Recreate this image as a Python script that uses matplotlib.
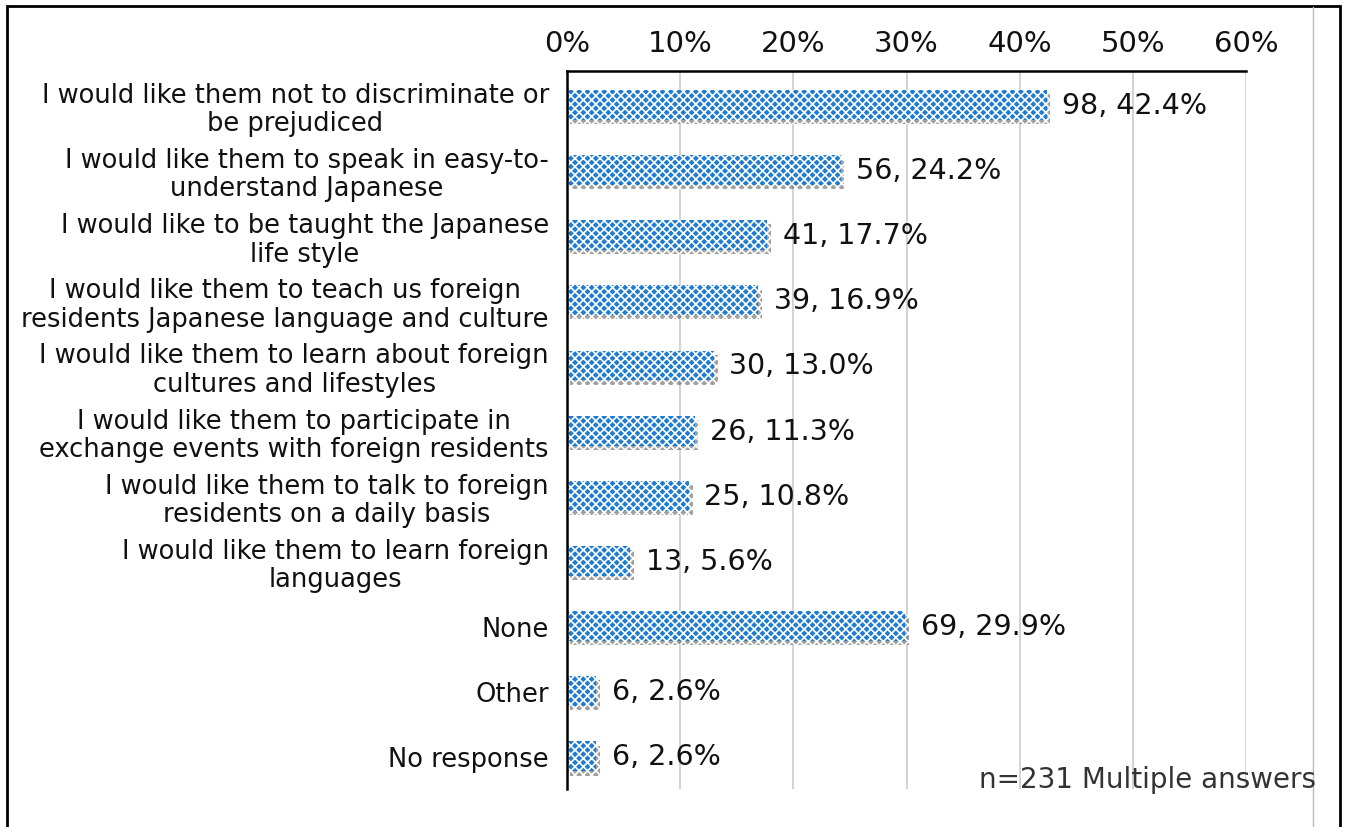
import matplotlib
matplotlib.use("Agg")
import matplotlib.pyplot as plt
import matplotlib.patheffects as pe
from matplotlib.patches import Rectangle
from matplotlib.lines import Line2D

plt.rcParams['font.family'] = ['DejaVu Sans']
plt.rcParams['hatch.linewidth'] = 1.2

categories = [
    "I would like them not to discriminate or\nbe prejudiced",
    "I would like them to speak in easy-to-\nunderstand Japanese",
    "I would like to be taught the Japanese\nlife style",
    "I would like them to teach us foreign\nresidents Japanese language and culture",
    "I would like them to learn about foreign\ncultures and lifestyles",
    "I would like them to participate in\nexchange events with foreign residents",
    "I would like them to talk to foreign\nresidents on a daily basis",
    "I would like them to learn foreign\nlanguages",
    "None",
    "Other",
    "No response",
]
counts = [98, 56, 41, 39, 30, 26, 25, 13, 69, 6, 6]
percents = [42.4, 24.2, 17.7, 16.9, 13.0, 11.3, 10.8, 5.6, 29.9, 2.6, 2.6]
xticks = [0, 10, 20, 30, 40, 50, 60]
xticklabels = ["0%", "10%", "20%", "30%", "40%", "50%", "60%"]
note = "n=231 Multiple answers"

W, H = 1346, 828
fig = plt.figure(figsize=(W / 100, H / 100), dpi=100)
ax = fig.add_axes([567 / W, 1 - 790 / H, (1246 - 567) / W, (790 - 72) / H])

y = list(range(len(categories)))
bars = ax.barh(y, percents, height=0.46, color='#1E7DD2', edgecolor='white',
               hatch='xxxx', linewidth=0, zorder=3)
for b in bars:
    b.set_path_effects([pe.SimplePatchShadow(offset=(2.5, -3), shadow_rgbFace='#444444', alpha=0.5),
                        pe.Normal()])

for yi, c, p in zip(y, counts, percents):
    ax.annotate(f"{c}, {p:.1f}%", xy=(p, yi), xytext=(11, 0), textcoords='offset points',
                va='center', ha='left', fontsize=20.5, color='#111111')

ax.set_xlim(0, 60)
ax.set_ylim(10.5, -0.52)
ax.set_xticks(xticks)
ax.set_xticklabels(xticklabels, fontsize=21, color='#111111')
ax.xaxis.tick_top()
ax.tick_params(axis='x', length=0, pad=10)
ax.set_yticks(y)
ax.set_yticklabels(categories, fontsize=18.5, color='#111111', linespacing=1.12)
ax.tick_params(axis='y', length=0, pad=13)
for lbl in ax.get_yticklabels():
    lbl.set_horizontalalignment('right')
    lbl.set_multialignment('center')

ax.grid(axis='x', color='#d0d0d0', linewidth=1.3, zorder=0)
ax.set_axisbelow(True)
for s in ['right', 'bottom']:
    ax.spines[s].set_visible(False)
ax.spines['left'].set_linewidth(1.8)
ax.spines['top'].set_linewidth(1.8)
ax.spines['left'].set_zorder(5)

fig.text(1316 / W, 1 - 780 / H, note, ha='right', va='center', fontsize=20, color='#333333')

# outer frame and chart-area edge
fig.add_artist(Rectangle((7 / W, -0.01), (1340 - 7) / W, 1 - 7 / H + 0.01,
                         transform=fig.transFigure, fill=False, edgecolor='black', linewidth=2))
fig.add_artist(Line2D([1313 / W, 1313 / W], [0, 1 - 8 / H], transform=fig.transFigure,
                      color='#bbbbbb', linewidth=1))

fig.savefig("out.png", dpi=100)
